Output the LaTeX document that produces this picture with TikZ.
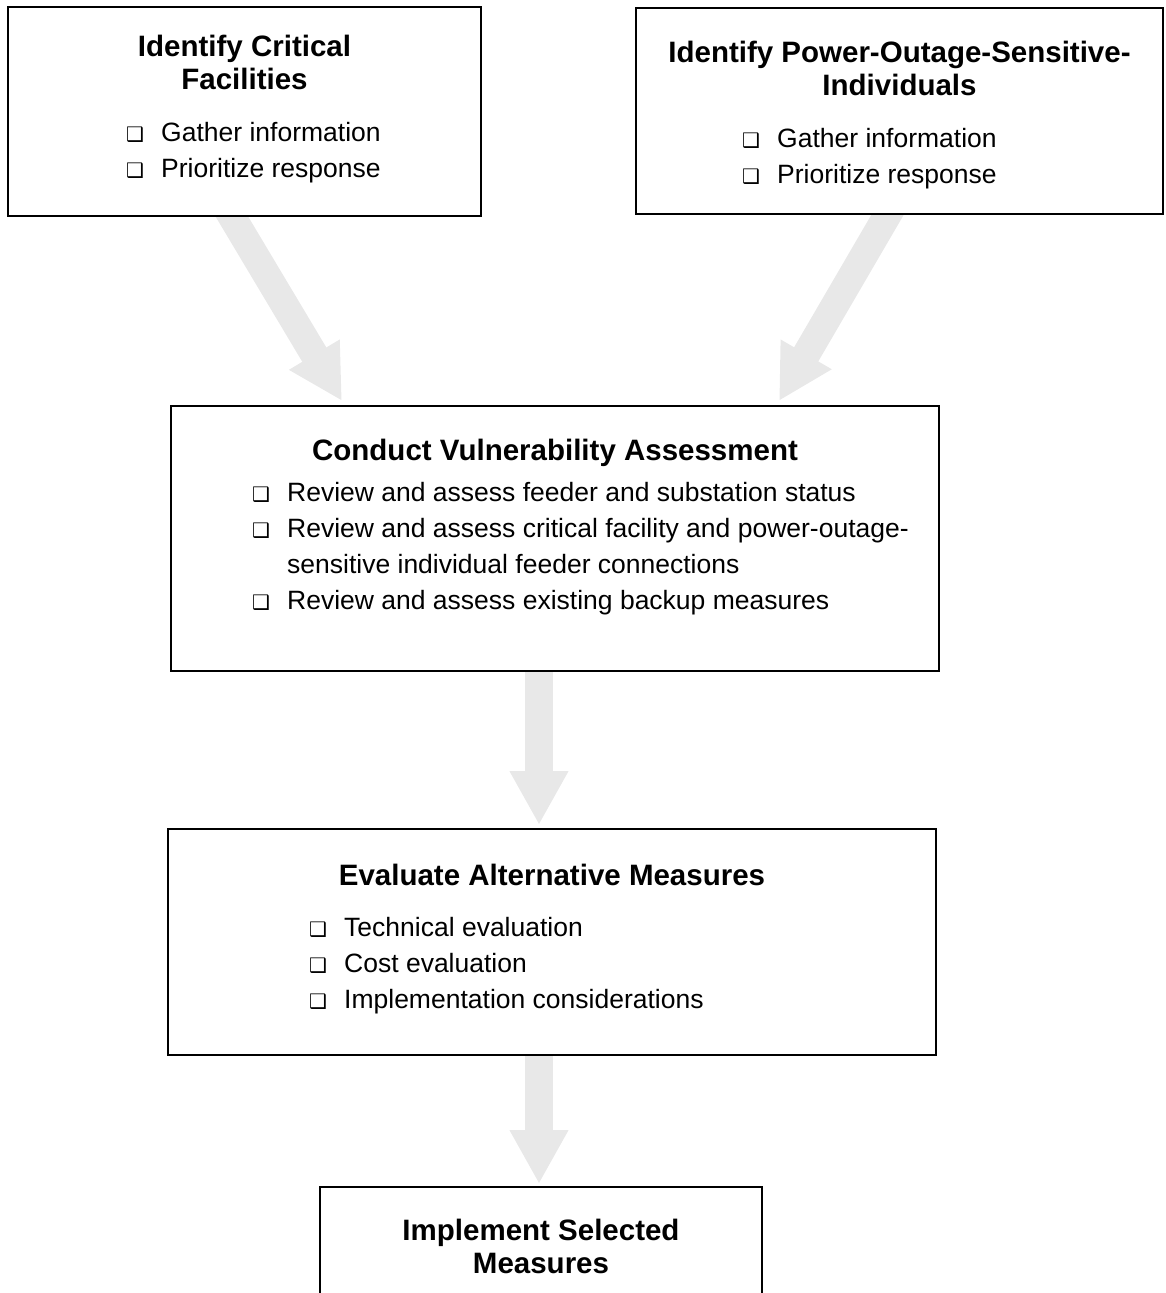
\documentclass[tikz,border=0pt]{standalone}
\usepackage{fontspec}
\setmainfont{Liberation Sans}
\newfontfamily\dingfont{DejaVu Sans}
\usetikzlibrary{positioning, calc, arrows.meta, backgrounds}
\newcommand{\chkbox}{\makebox[35pt][l]{\dingfont\fontsize{20}{20}\selectfont ❑}}

\begin{document}
\begin{tikzpicture}[x=1pt,y=1pt]
  \tikzstyle{box}=[draw=black,line width=2pt,fill=white,inner sep=0pt]
  \tikzstyle{title}=[font=\bfseries\fontsize{29.5}{33}\selectfont,align=center,anchor=base,inner sep=0pt]
  \tikzstyle{items}=[font=\fontsize{26.5}{36}\selectfont,anchor=base west,inner sep=0pt]
  \tikzstyle{flow}=[draw=gray!18,line width=28pt,-{Triangle[width=55pt,length=54pt]}]

  \useasboundingbox (0,0) rectangle (1165,-1293);

  \node[box, minimum width=473pt, minimum height=209pt] (cf) at (244.5,-111.5) {};
  \node[box, minimum width=527pt, minimum height=206pt] (psi) at (899.5,-111) {};
  \node[box, minimum width=768pt, minimum height=265pt] (cva) at (555,-538.5) {};
  \node[box, minimum width=768pt, minimum height=226pt] (eam) at (552,-942) {};
  \node[box, minimum width=442pt, minimum height=140pt] (ism) at (541,-1257) {};

  \node[title] (cft) at ($(cf.north)+(0,-83)$) {Identify Critical\\Facilities};
  \node[title] (psit) at ($(psi.north)+(0,-88)$) {Identify Power-Outage-Sensitive-\\Individuals};
  \node[title] (cvat) at ($(cva.north)+(0,-55)$) {Conduct Vulnerability Assessment};
  \node[title] (eamt) at ($(eam.north)+(0,-57)$) {Evaluate Alternative Measures};
  \node[title] (ismt) at ($(ism.north)+(0,-87)$) {Implement Selected\\Measures};

  \node[items] (cfl) at ($(cf.north west)+(119,-135)$) {\begin{tabular}[t]{@{}l@{}l@{}}
    \chkbox & Gather information\\
    \chkbox & Prioritize response
  \end{tabular}};
  \node[items] (psil) at ($(psi.north west)+(107,-140)$) {\begin{tabular}[t]{@{}l@{}l@{}}
    \chkbox & Gather information\\
    \chkbox & Prioritize response
  \end{tabular}};
  \node[items] (cval) at ($(cva.north west)+(82,-96)$) {\begin{tabular}[t]{@{}l@{}l@{}}
    \chkbox & Review and assess feeder and substation status\\
    \chkbox & Review and assess critical facility and power-outage-\\
            & sensitive individual feeder connections\\
    \chkbox & Review and assess existing backup measures
  \end{tabular}};
  \node[items] (eaml) at ($(eam.north west)+(142,-108)$) {\begin{tabular}[t]{@{}l@{}l@{}}
    \chkbox & Technical evaluation\\
    \chkbox & Cost evaluation\\
    \chkbox & Implementation considerations
  \end{tabular}};

  \begin{scope}[on background layer]
    \draw[flow] ($(cf.south west)+(209,27)$) -- ($(cva.north west)+(172,4)$);
    \draw[flow] ($(psi.south west)+(267,25)$) -- ($(cva.north east)+(-161,4)$);
    \draw[flow] ($(cva.south)+(-16,10)$) -- ($(eam.north)+(-13,3)$);
    \draw[flow] ($(eam.south)+(-13,10)$) -- ($(ism.north)+(-2,2)$);
  \end{scope}
\end{tikzpicture}
\end{document}
